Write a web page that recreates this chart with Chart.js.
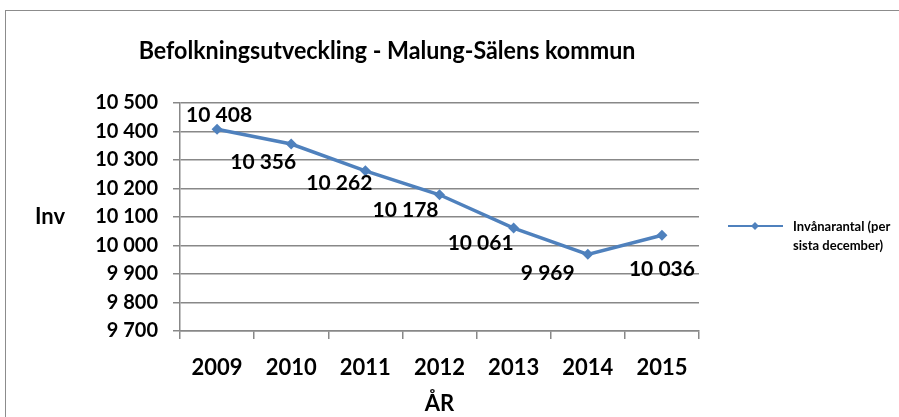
<!DOCTYPE html>
<html>
<head>
<meta charset="utf-8">
<script src="https://cdn.jsdelivr.net/npm/chart.js@4"></script>
<style>
  body { margin: 0; background: #fff; }
  #wrap { position: relative; width: 899px; height: 417px; overflow: hidden; }
  #frame { position: absolute; left: 5px; top: 10px; width: 900px; height: 420px; border: 1px solid #8c8c8c; box-sizing: border-box; }
  canvas { position: absolute; left: 0; top: 0; }
</style>
</head>
<body>
<div id="wrap">
  <div id="frame"></div>
  <canvas id="linechart" width="899" height="417"></canvas>
</div>
<script>

var years = ['2009', '2010', '2011', '2012', '2013', '2014', '2015'];
var invanare = [10408, 10356, 10262, 10178, 10061, 9969, 10036];
var yTicks = [9700, 9800, 9900, 10000, 10100, 10200, 10300, 10400, 10500];

var seriesLabel = 'Invånarantal (per sista december)';
var chartTitle = 'Befolkningsutveckling - Malung-Sälens kommun';

var blue = '#4f81bd';
var gray = '#888888';
var fontName = 'Lato';

function spaced(v) {
    return String(v).replace(/\B(?=(\d{3})+(?!\d))/g, ' ');
}

// label nudges, roughly where the labels sit in the original
var labelShift = [[2, -14], [-28, 18], [-26, 12], [-34, 15], [-33, 15], [-40, 19], [0, 34]];

var extras = {
    id: 'extras',
    afterDraw: function(chart) {
        var ctx = chart.ctx;
        var area = chart.chartArea;
        ctx.save();
        ctx.fillStyle = '#000';
        ctx.textAlign = 'center';
        ctx.textBaseline = 'middle';

        // title, a bit narrower like the original
        ctx.save();
        ctx.translate(387, 51);
        ctx.scale(0.93, 1);
        ctx.font = 'bold 25px ' + fontName;
        ctx.fillText(chartTitle, 0, 0);
        ctx.restore();

        // y axis title, horizontal
        ctx.font = 'bold 22px ' + fontName;
        ctx.fillText('Inv', 50, (area.top + area.bottom) / 2);

        // data labels
        var meta = chart.getDatasetMeta(0);
        ctx.font = 'bold 21px ' + fontName;
        meta.data.forEach(function(pt, i) {
            var s = labelShift[i] || [0, -14];
            ctx.fillText(spaced(invanare[i]), pt.x + s[0], pt.y + s[1]);
        });

        // legend
        var lx = 728, ly = 226;
        ctx.strokeStyle = blue;
        ctx.lineWidth = 2;
        ctx.beginPath();
        ctx.moveTo(lx, ly);
        ctx.lineTo(lx + 55, ly);
        ctx.stroke();
        ctx.fillStyle = blue;
        ctx.beginPath();
        ctx.moveTo(lx + 27, ly - 4);
        ctx.lineTo(lx + 31, ly);
        ctx.lineTo(lx + 27, ly + 4);
        ctx.lineTo(lx + 23, ly);
        ctx.closePath();
        ctx.fill();

        ctx.fillStyle = '#000';
        ctx.textAlign = 'left';
        ctx.font = 'bold 13px ' + fontName;
        var cut = seriesLabel.indexOf('(per') + 4;
        ctx.fillText(seriesLabel.slice(0, cut), 793, ly + 1);
        ctx.fillText(seriesLabel.slice(cut + 1), 793, ly + 20);
        ctx.restore();
    }
};

var chart = new Chart(document.getElementById('linechart'), {
    type: 'line',
    data: {
        labels: years,
        datasets: [{
            label: seriesLabel,
            data: invanare,
            borderColor: blue,
            backgroundColor: blue,
            borderWidth: 3.5,
            pointStyle: 'rectRot',
            pointRadius: 5.5,
            pointBorderWidth: 0,
            tension: 0,
            fill: false
        }]
    },
    options: {
        responsive: false,
        animation: false,
        layout: { padding: { top: 103, right: 200, left: 0, bottom: 0 } },
        plugins: {
            legend: { display: false },
            tooltip: { enabled: false }
        },
        scales: {
            x: {
                offset: true,
                grid: { offset: true, drawOnChartArea: false, color: gray, lineWidth: 1.5, tickLength: 8 },
                border: { color: gray, width: 1.5 },
                ticks: { color: '#000', font: { family: fontName, size: 22, weight: 'bold' }, padding: 16 },
                title: { display: true, text: 'ÅR', color: '#000', font: { family: fontName, size: 22, weight: 'bold' }, padding: { top: 0, bottom: 0 } },
                afterFit: function(s) { s.height = 86; }
            },
            y: {
                min: 9700,
                max: 10500,
                afterBuildTicks: function(s) { s.ticks = yTicks.map(function(v) { return { value: v }; }); },
                grid: { color: gray, lineWidth: 1.5, tickLength: 7 },
                border: { color: gray, width: 1.5 },
                ticks: {
                    color: '#000',
                    font: { family: fontName, size: 20, weight: 'bold' },
                    padding: 15,
                    callback: function(v) { return spaced(v); }
                },
                afterFit: function(s) { s.width = 180; }
            }
        }
    },
    plugins: [extras]
});

</script>
</body>
</html>
